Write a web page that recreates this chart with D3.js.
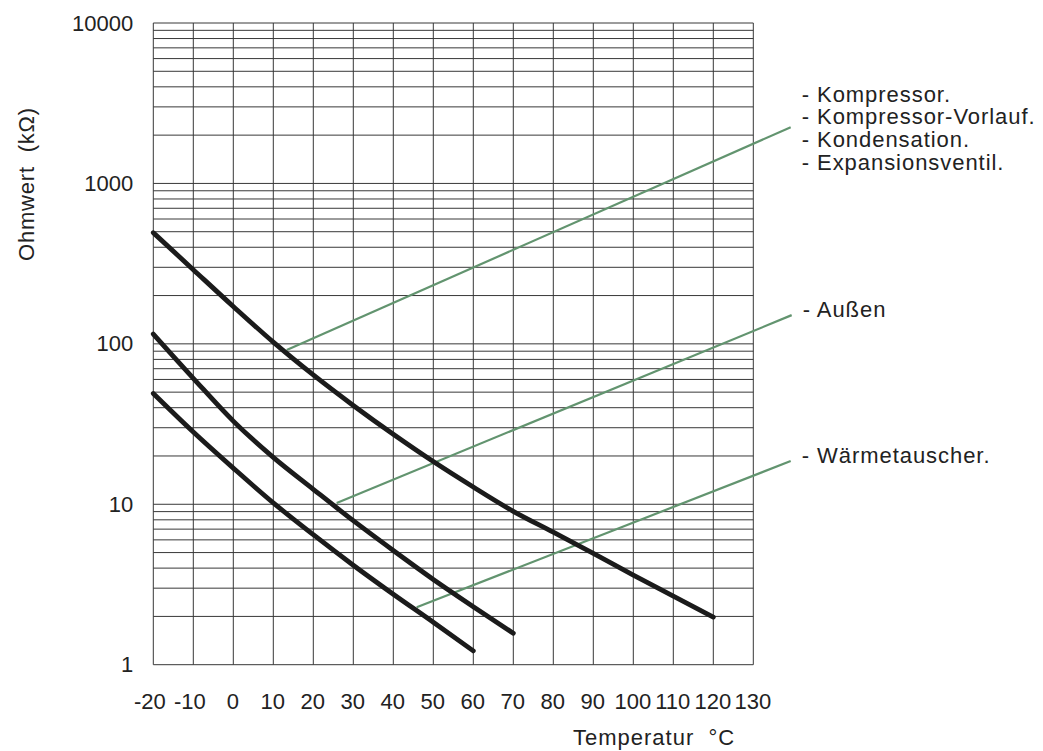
<!DOCTYPE html>
<html>
<head>
<meta charset="utf-8">
<script src="https://cdn.jsdelivr.net/npm/d3@7"></script>
<style>
  html, body { margin: 0; padding: 0; background: #fff; }
  svg { display: block; font-family: "Liberation Sans", Arial, sans-serif; }
  text { white-space: pre; fill: #222; }
</style>
</head>
<body>
<svg id="chart" width="1043" height="751"></svg>
<script>
// ---------- DATA ----------
const xTickValues = [-20, -10, 0, 10, 20, 30, 40, 50, 60, 70, 80, 90, 100, 110, 120, 130];
const yTickValues = [1, 10, 100, 1000, 10000];
const yTickLabels = ["1", "10", "100", "1000", "10000"];

// Resistance curves (kΩ) vs temperature (°C)
const tempsKompressor = [-20, -10, 0, 10, 20, 30, 40, 50, 60, 70, 80, 90, 100, 110, 120];
const ohmKompressor   = [493, 290, 171, 102.5, 64, 41.3, 27.3, 18.45, 12.8, 9.04, 6.7, 4.95, 3.62, 2.68, 1.98];

const tempsAussen = [-20, -10, 0, 10, 20, 30, 40, 50, 60, 70];
const ohmAussen   = [115, 61, 33, 19.6, 12.4, 7.9, 5.15, 3.4, 2.3, 1.57];

const tempsWaerme = [-20, -10, 0, 10, 20, 30, 40, 50, 60];
const ohmWaerme   = [49, 28.2, 16.8, 10.2, 6.46, 4.17, 2.75, 1.84, 1.22];

// Leader lines (temperature, kΩ) start and end
const leaderStart = [[13.35, 91.6], [25.85, 10.2], [45.85, 2.28]];
const leaderEnd   = [[139.35, 2240], [139.6, 151], [139.35, 18.6]];

const labelGroups = [
  ["- Kompressor.", "- Kompressor-Vorlauf.", "- Kondensation.", "- Expansionsventil."],
  ["- Außen"],
  ["- Wärmetauscher."]
];

const xTitle = "Temperatur  °C";
const yTitle = "Ohmwert  (kΩ)";

// ---------- LAYOUT ----------
const svg = d3.select("#chart");
const plotLeft = 153.3, plotRight = 753.3, plotTop = 23, plotBottom = 664.7;
const labelDy = [-25.6, 2.3, 2.3];
const lineGap = 22.7;
const fs = 22;

const x = d3.scaleLinear().domain([-20, 130]).range([plotLeft, plotRight]);
const y = d3.scaleLog().domain([1, 10000]).range([plotBottom, plotTop]);

// Grid
const grid = svg.append("g").attr("class", "grid");
grid.selectAll("line.h")
  .data(y.ticks())
  .enter().append("line")
  .attr("class", "h")
  .attr("x1", plotLeft).attr("x2", plotRight)
  .attr("y1", d => y(d)).attr("y2", d => y(d))
  .attr("stroke", "#383838").attr("stroke-width", 1);

grid.selectAll("line.v")
  .data(xTickValues)
  .enter().append("line")
  .attr("class", "v")
  .attr("x1", d => x(d)).attr("x2", d => x(d))
  .attr("y1", plotTop).attr("y2", plotBottom)
  .attr("stroke", "#383838").attr("stroke-width", 1);

// Axes (labels only)
const xAxis = d3.axisBottom(x).tickValues(xTickValues).tickSize(0).tickPadding(29)
  .tickFormat(d => String(d));
const gx = svg.append("g").attr("transform", `translate(0,${plotBottom})`).call(xAxis);
gx.select(".domain").remove();
gx.selectAll("text").attr("font-size", fs).attr("fill", "#222")
  .attr("font-family", "Liberation Sans, Arial, sans-serif")
  .attr("dx", d => d < 0 ? -4 : -1);

const yAxis = d3.axisLeft(y).tickValues(yTickValues).tickSize(0).tickPadding(20)
  .tickFormat((d, i) => yTickLabels[i]);
const gy = svg.append("g").attr("transform", `translate(${plotLeft},0)`).call(yAxis);
gy.select(".domain").remove();
gy.selectAll("text").attr("font-size", fs).attr("fill", "#222")
  .attr("font-family", "Liberation Sans, Arial, sans-serif");

// Titles
svg.append("text")
  .attr("x", 573).attr("y", 745)
  .attr("font-size", fs).attr("letter-spacing", 1)
  .text(xTitle);

svg.append("text")
  .attr("transform", "translate(34,184) rotate(-90)")
  .attr("text-anchor", "middle")
  .attr("font-size", fs).attr("letter-spacing", 0.8)
  .text(yTitle);

// Leader lines
const leaders = leaderStart.map((s, i) => [s, leaderEnd[i]]);
svg.append("g").selectAll("line")
  .data(leaders)
  .enter().append("line")
  .attr("x1", d => x(d[0][0])).attr("y1", d => y(d[0][1]))
  .attr("x2", d => x(d[1][0])).attr("y2", d => y(d[1][1]))
  .attr("stroke", "#62946f").attr("stroke-width", 2.2);

// Curves
const line = d3.line()
  .x(d => x(d[0])).y(d => y(d[1]))
  .curve(d3.curveMonotoneX);

const curves = [
  d3.zip(tempsKompressor, ohmKompressor),
  d3.zip(tempsAussen, ohmAussen),
  d3.zip(tempsWaerme, ohmWaerme)
];
svg.append("g").selectAll("path")
  .data(curves)
  .enter().append("path")
  .attr("d", line)
  .attr("fill", "none")
  .attr("stroke", "#1b1b1b")
  .attr("stroke-width", 4.8)
  .attr("stroke-linecap", "round")
  .attr("stroke-linejoin", "round");

// Labels
labelGroups.forEach((grp, gi) => {
  const ex = x(leaderEnd[gi][0]) + 11;
  const ey = y(leaderEnd[gi][1]) + labelDy[gi];
  grp.forEach((t, li) => {
    svg.append("text")
      .attr("x", ex).attr("y", ey + li * lineGap)
      .attr("font-size", fs).attr("letter-spacing", 0.95)
      .text(t);
  });
});
</script>
</body>
</html>
